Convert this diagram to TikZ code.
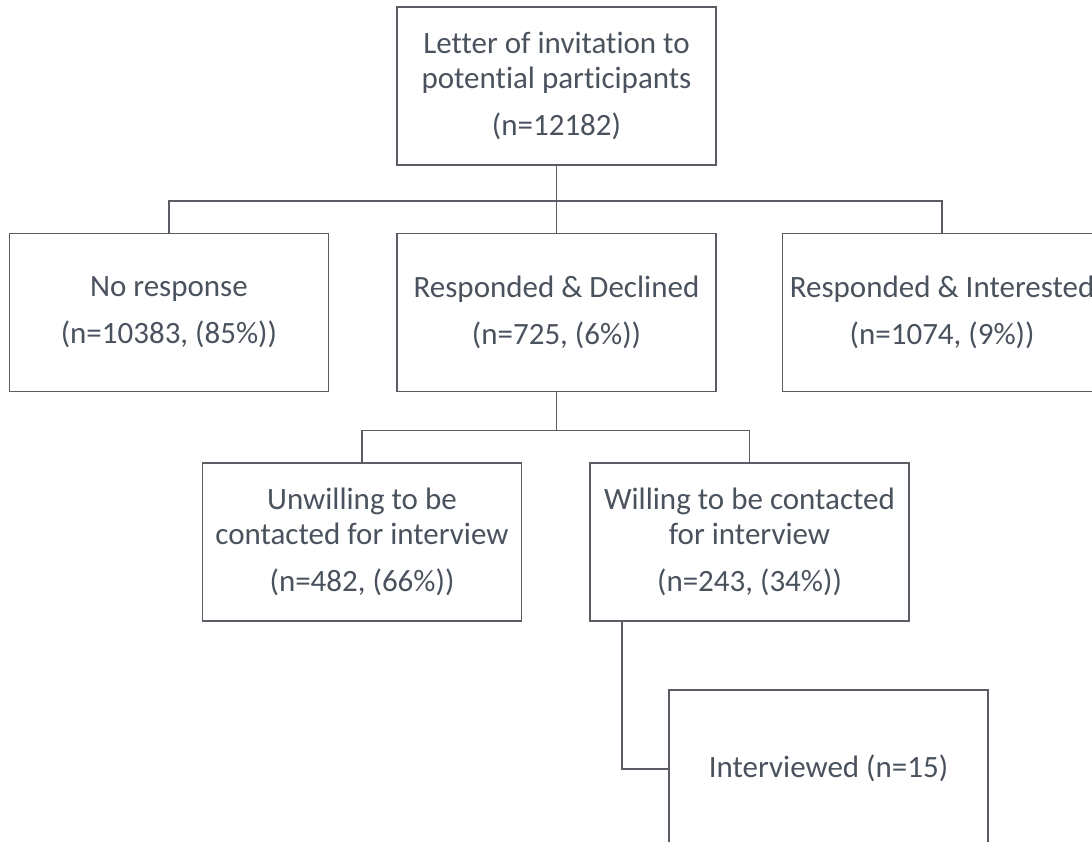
\documentclass[tikz,border=0pt]{standalone}
\usepackage{fontspec}
\setmainfont{Carlito}[Ligatures=NoCommon]
\definecolor{boxline}{RGB}{89,93,99}
\definecolor{boxtext}{RGB}{74,82,94}
\usetikzlibrary{positioning}

\begin{document}
\begin{tikzpicture}[
    x=1pt, y=1pt,
    flowbox/.style={draw=boxline, line width=1.6pt, text=boxtext,
      minimum width=319pt, minimum height=158pt, inner sep=0pt,
      font=\fontsize{31}{35}\selectfont, align=center},
    link/.style={draw=boxline, line width=1.6pt},
    node distance=67pt,
  ]
    \useasboundingbox (0,0) rectangle (1092,-842);
    \clip (0,0) rectangle (1092,-842);
    \node[flowbox] (letter) at (556.5,-86) {Letter of invitation to\\potential participants\\[12pt](n=12182)};
    \node[flowbox, below=of letter] (declined) {Responded \& Declined\\[12pt](n=725, (6\%))};
    \node[flowbox, left=of declined] (noresp) {No response\\[12pt](n=10383, (85\%))};
    \node[flowbox, right=65pt of declined] (interested) {Responded \& Interested\\[12pt](n=1074, (9\%))};
    \node[flowbox, below=70pt of declined, xshift=-194.5pt] (unwilling) {Unwilling to be\\contacted for interview\\[12pt](n=482, (66\%))};
    \node[flowbox, below=70pt of declined, xshift=193pt] (willing) {Willing to be contacted\\for interview\\[12pt](n=243, (34\%))};
    \node[flowbox, below=67pt of willing, xshift=79pt] (interviewed) {Interviewed (n=15)};
    % connectors
    \draw[link] (letter.south) -- ++(0,-35) coordinate (bus1) -- (declined.north);
    \draw[link] (bus1) -| (noresp.north);
    \draw[link] (bus1) -| (interested.north);
    \draw[link] (declined.south) -- ++(0,-38) coordinate (bus2);
    \draw[link] (bus2) -| (unwilling.north);
    \draw[link] (bus2) -| (willing.north);
    \draw[link] ([xshift=33pt]willing.south west) |- (interviewed.west);
  \end{tikzpicture}
\end{document}
